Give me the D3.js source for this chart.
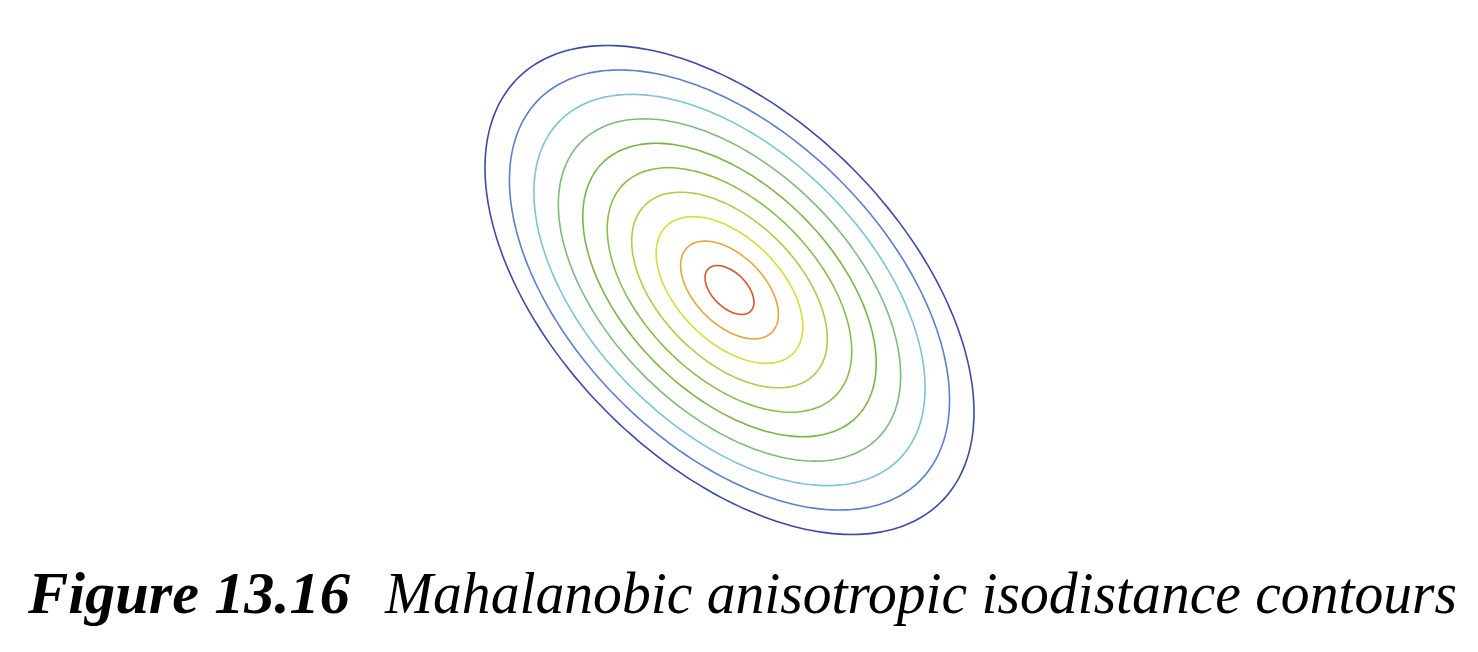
<!DOCTYPE html>
<html>
<head>
<meta charset="utf-8">
<script src="https://cdn.jsdelivr.net/npm/d3@7"></script>
<style>
  html, body { margin: 0; padding: 0; background: #fff; }
  svg { display: block; }
</style>
</head>
<body>
<svg id="chart" width="1478" height="652"></svg>
<script>
// Mahalanobis isodistance levels (inner -> outer)
const levels = [1, 2, 3, 4, 5, 6, 7, 8, 9, 10];
const levelColors = ["#d3582c", "#e3a63c", "#d6dc3e", "#a9cf48", "#86c04a",
                     "#78b646", "#7dbd7c", "#7dc3d3", "#5a80cc", "#3b4aa3"];
// covariance matrix (data units)
const sigmaXX = 1.0;
const sigmaYY = 1.0;
const sigmaXY = -0.5;
const center = [0, 0];
const titleBold = "Figure 13.16";
const titleItalic = "Mahalanobic anisotropic isodistance contours";

const svg = d3.select("#chart");
const x = d3.scaleLinear().domain([-10, 10]).range([485, 974]);
const y = d3.scaleLinear().domain([-10, 10]).range([534.5, 45.5]);

// eigen-decomposition of the covariance
const tr = sigmaXX + sigmaYY, det = sigmaXX * sigmaYY - sigmaXY * sigmaXY;
const l1 = tr / 2 + Math.sqrt(tr * tr / 4 - det);
const l2 = tr / 2 - Math.sqrt(tr * tr / 4 - det);
const theta = 0.5 * Math.atan2(2 * sigmaXY, sigmaXX - sigmaYY);
const c = Math.cos(theta), s = Math.sin(theta);

const angles = d3.range(0, 360, 2).map(a => a * Math.PI / 180);
const line = d3.line().x(d => x(d[0])).y(d => y(d[1])).curve(d3.curveCardinalClosed);

levels.forEach((d, i) => {
  const pts = angles.map(t => {
    const u = d * Math.sqrt(l1) * Math.cos(t);
    const v = d * Math.sqrt(l2) * Math.sin(t);
    return [center[0] + c * u - s * v, center[1] + s * u + c * v];
  });
  svg.append("path")
    .attr("d", line(pts))
    .attr("fill", "none")
    .attr("stroke", levelColors[i])
    .attr("stroke-width", 1.6);
});

const title = svg.append("g").attr("transform", "translate(0,613) scale(1,1.07)");
title.append("text")
  .attr("x", 28).attr("y", 0)
  .attr("font-family", "Liberation Serif, 'DejaVu Serif', serif")
  .attr("font-style", "italic").attr("font-weight", "bold")
  .attr("font-size", 56)
  .attr("textLength", 322).attr("lengthAdjust", "spacingAndGlyphs")
  .text(titleBold);

title.append("text")
  .attr("x", 385).attr("y", 0)
  .attr("font-family", "Liberation Serif, 'DejaVu Serif', serif")
  .attr("font-style", "italic")
  .attr("font-size", 56)
  .attr("textLength", 1072).attr("lengthAdjust", "spacingAndGlyphs")
  .text(titleItalic);
</script>
</body>
</html>
